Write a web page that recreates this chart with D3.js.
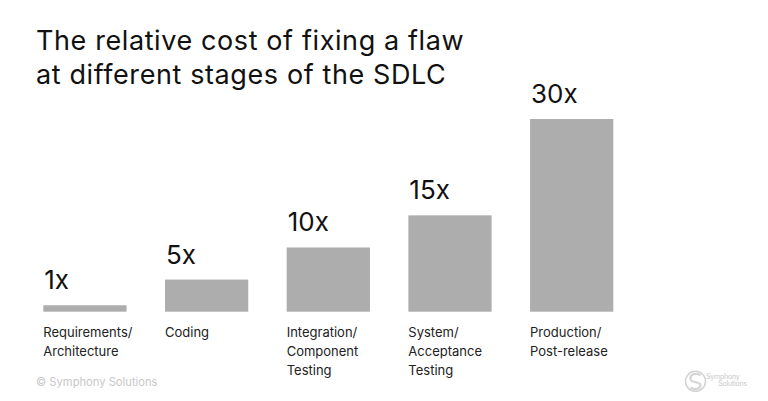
<!DOCTYPE html>
<html>
<head>
<meta charset="utf-8">
<script src="https://cdn.jsdelivr.net/npm/d3@7"></script>
<style>
  body { margin: 0; background: #fff; }
  svg { display: block; font-family: Inter, "Noto Sans", sans-serif; }
</style>
</head>
<body>
<div id="chart"></div>
<script>
// data
const stages = [
  ["Requirements/", "Architecture"],
  ["Coding"],
  ["Integration/", "Component", "Testing"],
  ["System/", "Acceptance", "Testing"],
  ["Production/", "Post-release"]
];
const costs = [1, 5, 10, 15, 30];
const valueLabels = ["1x", "5x", "10x", "15x", "30x"];
const titleLines = ["The relative cost of fixing a flaw", "at different stages of the SDLC"];

const width = 768, height = 401;

const svg = d3.select("#chart")
  .append("svg")
  .attr("width", width)
  .attr("height", height);

// title
svg.append("g")
  .selectAll("text")
  .data(titleLines)
  .join("text")
  .attr("x", 36)
  .attr("y", (d, i) => 50 + i * 34)
  .style("font-size", "27px")
  .style("letter-spacing", "0.6px")
  .attr("fill", "#111")
  .text(d => d);

// scales
const x = d3.scaleBand()
  .domain(d3.range(costs.length))
  .range([43.3, 613.3])
  .paddingInner(0.316)
  .paddingOuter(0);

const y = d3.scaleLinear()
  .domain([0, 30])
  .range([311.7, 119]);

// bars
svg.append("g")
  .selectAll("rect")
  .data(costs)
  .join("rect")
  .attr("x", (d, i) => x(i))
  .attr("y", d => y(d))
  .attr("width", x.bandwidth())
  .attr("height", d => y(0) - y(d))
  .attr("fill", "#adadad");

// value labels above bars
svg.append("g")
  .selectAll("text")
  .data(costs)
  .join("text")
  .attr("x", (d, i) => x(i) + 1)
  .attr("y", d => y(d) - 16)
  .style("font-size", "26px")
  .attr("fill", "#111")
  .text((d, i) => valueLabels[i]);

// category labels under bars
const cat = svg.append("g")
  .selectAll("text")
  .data(stages)
  .join("text")
  .attr("x", (d, i) => x(i))
  .attr("y", 337.3)
  .style("font-size", "13px")
  .attr("fill", "#222");

cat.selectAll("tspan")
  .data(d => d)
  .join("tspan")
  .attr("x", function () { return d3.select(this.parentNode).attr("x"); })
  .attr("dy", (d, i) => i === 0 ? 0 : 19)
  .text(d => d);

// footer
svg.append("text")
  .attr("x", 36)
  .attr("y", 386)
  .style("font-size", "11.2px")
  .attr("fill", "#c8c8c8")
  .text("\u00a9 Symphony Solutions");

// logo, bottom right
const logo = svg.append("g")
  .attr("transform", "translate(695.5,381.3)")
  .attr("fill", "none")
  .attr("stroke", "#d4d4d4");
logo.append("circle").attr("r", 10).attr("stroke-width", 1.6);
logo.append("path")
  .attr("d", "M5,-6 C1,-9 -6,-7 -5,-2 C-4,2 5,0 5,4 C5,8 -1,9 -5,6")
  .attr("stroke-width", 2.2);

const logoText = svg.append("g")
  .attr("fill", "#c8c8c8")
  .style("font-size", "7px")
  .style("letter-spacing", "-0.2px");
logoText.append("text")
  .attr("x", 706)
  .attr("y", 378.5)
  .text("Symphony");
logoText.append("text")
  .attr("x", 747)
  .attr("y", 386)
  .attr("text-anchor", "end")
  .text("Solutions");
</script>
</body>
</html>
